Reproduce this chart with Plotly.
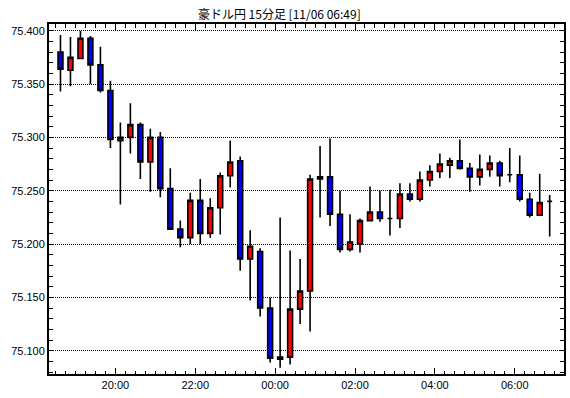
import plotly.graph_objects as go
import pandas as pd

title_text = "豪ドル円 15分足 [11/06 06:49]"

times = [
    "2019-11-05 18:30", "2019-11-05 18:45", "2019-11-05 19:00", "2019-11-05 19:15",
    "2019-11-05 19:30", "2019-11-05 19:45", "2019-11-05 20:00", "2019-11-05 20:15",
    "2019-11-05 20:30", "2019-11-05 20:45", "2019-11-05 21:00", "2019-11-05 21:15",
    "2019-11-05 21:30", "2019-11-05 21:45", "2019-11-05 22:00", "2019-11-05 22:15",
    "2019-11-05 22:30", "2019-11-05 22:45", "2019-11-05 23:00", "2019-11-05 23:15",
    "2019-11-05 23:30", "2019-11-05 23:45", "2019-11-06 00:00", "2019-11-06 00:15",
    "2019-11-06 00:30", "2019-11-06 00:45", "2019-11-06 01:00", "2019-11-06 01:15",
    "2019-11-06 01:30", "2019-11-06 01:45", "2019-11-06 02:00", "2019-11-06 02:15",
    "2019-11-06 02:30", "2019-11-06 02:45", "2019-11-06 03:00", "2019-11-06 03:15",
    "2019-11-06 03:30", "2019-11-06 03:45", "2019-11-06 04:00", "2019-11-06 04:15",
    "2019-11-06 04:30", "2019-11-06 04:45", "2019-11-06 05:00", "2019-11-06 05:15",
    "2019-11-06 05:30", "2019-11-06 05:45", "2019-11-06 06:00", "2019-11-06 06:15",
    "2019-11-06 06:30", "2019-11-06 06:45",
]

opens = [75.380, 75.363, 75.374, 75.393, 75.368, 75.344, 75.297, 75.300, 75.312, 75.277,
         75.300, 75.252, 75.214, 75.206, 75.241, 75.210, 75.234, 75.264, 75.278, 75.186,
         75.193, 75.140, 75.092, 75.094, 75.139, 75.156, 75.261, 75.263, 75.228, 75.195,
         75.200, 75.222, 75.230, 75.224, 75.224, 75.247, 75.242, 75.260, 75.268, 75.274,
         75.278, 75.271, 75.263, 75.270, 75.276, 75.265, 75.265, 75.242, 75.227, 75.240]
highs = [75.396, 75.394, 75.400, 75.395, 75.385, 75.353, 75.314, 75.332, 75.314, 75.308,
         75.305, 75.271, 75.222, 75.248, 75.261, 75.243, 75.267, 75.297, 75.282, 75.213,
         75.196, 75.150, 75.225, 75.194, 75.186, 75.265, 75.292, 75.299, 75.250, 75.228,
         75.224, 75.254, 75.250, 75.251, 75.257, 75.257, 75.268, 75.274, 75.285, 75.281,
         75.298, 75.276, 75.284, 75.283, 75.278, 75.290, 75.283, 75.248, 75.266, 75.246]
lows = [75.343, 75.348, 75.374, 75.350, 75.342, 75.290, 75.237, 75.285, 75.261, 75.249,
        75.244, 75.214, 75.197, 75.200, 75.200, 75.206, 75.209, 75.253, 75.175, 75.147,
        75.132, 75.089, 75.084, 75.087, 75.125, 75.118, 75.225, 75.217, 75.192, 75.193,
        75.192, 75.222, 75.221, 75.208, 75.215, 75.240, 75.240, 75.254, 75.262, 75.262,
        75.270, 75.249, 75.255, 75.263, 75.254, 75.258, 75.240, 75.225, 75.227, 75.207]
closes = [75.364, 75.375, 75.393, 75.368, 75.344, 75.298, 75.300, 75.312, 75.277, 75.300,
          75.252, 75.214, 75.206, 75.241, 75.210, 75.234, 75.264, 75.277, 75.186, 75.198,
          75.140, 75.093, 75.094, 75.139, 75.156, 75.261, 75.263, 75.228, 75.195, 75.202,
          75.222, 75.230, 75.224, 75.224, 75.247, 75.242, 75.260, 75.268, 75.275, 75.278,
          75.271, 75.263, 75.270, 75.276, 75.264, 75.265, 75.242, 75.227, 75.239, 75.240]

# candles drawn at the middle of their 15-minute interval
x = pd.to_datetime(times) + pd.Timedelta(minutes=7.5)

fig = go.Figure(go.Candlestick(
    x=x, open=opens, high=highs, low=lows, close=closes,
    increasing=dict(fillcolor="#FF0000", line=dict(color="#000000", width=1.6)),
    decreasing=dict(fillcolor="#0000FF", line=dict(color="#000000", width=1.6)),
    whiskerwidth=0,
    showlegend=False,
))

axis_font = dict(family="Liberation Sans, Arial, sans-serif", size=11, color="#000000")

fig.update_layout(
    width=570, height=398,
    margin=dict(l=49, r=6, t=24, b=24, autoexpand=False),
    paper_bgcolor="#FFFFFF", plot_bgcolor="#FFFFFF",
    title=dict(text=title_text, x=0.49, xref="container", xanchor="center",
               y=1 - 14.5 / 398, yref="container", yanchor="middle",
               font=dict(family="Noto Sans CJK JP", size=12, color="#000000")),
    font=axis_font,
)

fig.update_xaxes(
    type="date", automargin=False,
    range=["2019-11-05 18:20:15", "2019-11-06 07:14:00"],
    rangeslider=dict(visible=False),
    tick0="2019-11-05 20:00", dtick=7200000, tickformat="%H:%M",
    ticks="inside", ticklen=6, tickwidth=1, tickcolor="#000000",
    minor=dict(dtick=900000, tick0="2019-11-05 20:00", ticks="inside", ticklen=3.5,
               tickwidth=1, tickcolor="#000000", showgrid=False),
    showgrid=False, zeroline=False,
    showline=True, linecolor="#000000", linewidth=2, mirror="allticks",
    tickfont=axis_font,
)

fig.update_yaxes(
    automargin=False,
    range=[75.0782, 75.4063],
    tick0=75.1, dtick=0.05, tickformat=".3f",
    ticks="inside", ticklen=4, tickwidth=1, tickcolor="#000000",
    minor=dict(dtick=0.01, tick0=75.1, ticks="inside", ticklen=4, tickwidth=1,
               tickcolor="#000000", showgrid=False),
    showgrid=True, gridcolor="#000000", gridwidth=1, griddash="1px,1px",
    zeroline=False,
    showline=True, linecolor="#000000", linewidth=2, mirror="allticks",
    tickfont=axis_font,
)

fig.write_html(
    "out.html",
    config={"displayModeBar": False},
    post_script="document.body.style.margin='0';document.body.style.overflow='hidden';",
)
